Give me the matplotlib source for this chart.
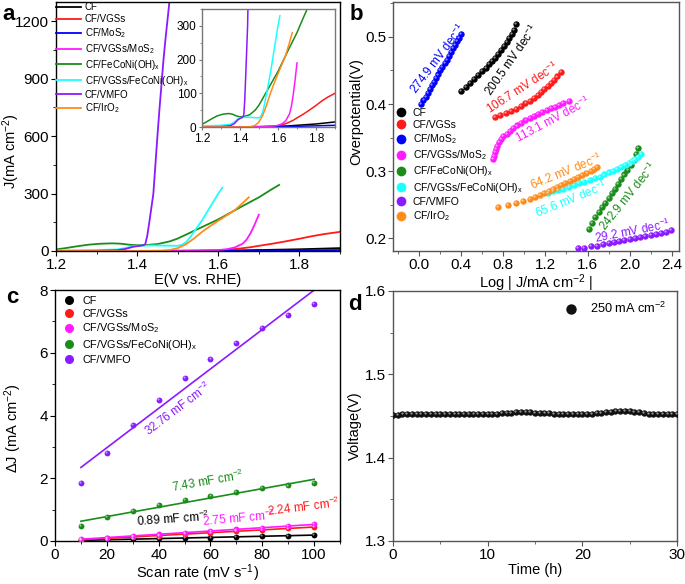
import numpy as np
import matplotlib
matplotlib.use('Agg')
import matplotlib.pyplot as plt
from matplotlib.ticker import MultipleLocator
from matplotlib.lines import Line2D
from matplotlib.transforms import offset_copy

plt.rcParams['font.family'] = ['Liberation Sans', 'DejaVu Sans']
plt.rcParams['mathtext.fontset'] = 'custom'
plt.rcParams['mathtext.rm'] = 'Liberation Sans'
plt.rcParams['mathtext.it'] = 'Liberation Sans:italic'
plt.rcParams['mathtext.bf'] = 'Liberation Sans:bold'

# ---------------- data: panel a (LSV) ----------------
names_a = ['CF', 'CF/VGSs', 'CF/MoS$_2$', 'CF/VGSs/MoS$_2$', 'CF/FeCoNi(OH)$_\\mathregular{x}$',
           'CF/VGSs/FeCoNi(OH)$_\\mathregular{x}$', 'CF/VMFO', 'CF/IrO$_2$']
colors_a = ['#000000', '#ff1a1a', '#0000ff', '#ff1aff', '#1a8c1a', '#1affff', '#8a1aff', '#ff8c1a']

E_cf = [1.2, 1.3, 1.4, 1.5, 1.6, 1.65, 1.7, 1.75, 1.8, 1.85, 1.9]
J_cf = [0, 0, 0.5, 1, 2, 3, 5, 7, 9, 12, 15]
E_vgs = [1.2, 1.4, 1.55, 1.6, 1.62, 1.65, 1.68, 1.7, 1.73, 1.76, 1.8, 1.83, 1.86, 1.9]
J_vgs = [0, 0, 1, 3, 6, 12, 20, 27, 37, 48, 64, 77, 88, 100]
E_mos = [1.2, 1.5, 1.6, 1.7, 1.8, 1.9]
J_mos = [0, 0.5, 1, 2, 3.5, 5]
E_vmos = [1.2, 1.5, 1.58, 1.6, 1.62, 1.64, 1.66, 1.67, 1.68, 1.69, 1.7]
J_vmos = [0, 1, 3, 5, 9, 18, 38, 60, 95, 140, 190]
E_fcn = [1.2, 1.22, 1.25, 1.28, 1.31, 1.34, 1.36, 1.38, 1.4, 1.42, 1.45, 1.48, 1.5, 1.53, 1.56,
         1.6, 1.63, 1.66, 1.7, 1.73, 1.75]
J_fcn = [8, 14, 24, 33, 38, 40, 38, 33, 30, 31, 36, 50, 65, 95, 125, 165, 200, 235, 280, 320, 345]
E_vfcn = [1.2, 1.3, 1.35, 1.37, 1.39, 1.41, 1.44, 1.47, 1.5, 1.51, 1.52, 1.53, 1.54, 1.55, 1.56,
          1.57, 1.58, 1.59, 1.6, 1.61]
J_vfcn = [3, 5, 8, 15, 25, 28, 29, 28, 27, 32, 45, 70, 100, 130, 160, 195, 230, 265, 300, 330]
E_vmfo = [1.2, 1.3, 1.35, 1.37, 1.39, 1.41, 1.415, 1.42, 1.425, 1.43, 1.435, 1.44, 1.445, 1.45,
          1.455, 1.46, 1.465, 1.47, 1.475, 1.48]
J_vmfo = [0, 1, 4, 10, 22, 28, 30, 35, 80, 150, 225, 300, 450, 600, 740, 870, 1000, 1110, 1210, 1310]
E_iro = [1.2, 1.4, 1.46, 1.48, 1.5, 1.52, 1.54, 1.56, 1.58, 1.6, 1.62, 1.64, 1.66, 1.675]
J_iro = [0, 0, 1, 5, 15, 35, 65, 100, 130, 158, 185, 212, 250, 280]

series_a = [(E_cf, J_cf), (E_vgs, J_vgs), (E_mos, J_mos), (E_vmos, J_vmos), (E_fcn, J_fcn),
            (E_vfcn, J_vfcn), (E_vmfo, J_vmfo), (E_iro, J_iro)]

# ---------------- data: panel b (Tafel) ----------------
lx_mos = [0.02, 0.04, 0.06, 0.08, 0.10, 0.12, 0.14, 0.16, 0.18, 0.20, 0.22, 0.24, 0.26, 0.28,
          0.30, 0.32, 0.34, 0.36, 0.38, 0.40]
ly_mos = [0.400, 0.406, 0.411, 0.417, 0.422, 0.428, 0.433, 0.439, 0.444, 0.450, 0.455, 0.461,
          0.466, 0.472, 0.477, 0.483, 0.488, 0.494, 0.499, 0.505]
lx_cf = [0.40, 0.44, 0.48, 0.52, 0.56, 0.60, 0.63, 0.66, 0.69, 0.72, 0.75, 0.78, 0.805, 0.83,
         0.855, 0.88, 0.90, 0.92]
ly_cf = [0.420, 0.4255, 0.431, 0.437, 0.443, 0.449, 0.454, 0.459, 0.464, 0.469, 0.475, 0.481,
         0.486, 0.492, 0.498, 0.504, 0.510, 0.519]
lx_vgs = [0.72, 0.77, 0.82, 0.87, 0.92, 0.97, 1.01, 1.05, 1.09, 1.13, 1.16, 1.19, 1.22, 1.25,
          1.28, 1.31, 1.35]
ly_vgs = [0.381, 0.383, 0.386, 0.389, 0.393, 0.397, 0.401, 0.405, 0.409, 0.414, 0.418, 0.422,
          0.427, 0.431, 0.436, 0.441, 0.448]
lx_vmos = [0.70, 0.71, 0.72, 0.73, 0.74, 0.76, 0.78, 0.80, 0.83, 0.86, 0.89, 0.93, 0.97, 1.01,
           1.05, 1.09, 1.13, 1.17, 1.21, 1.25, 1.29, 1.33, 1.37, 1.42]
ly_vmos = [0.318, 0.323, 0.328, 0.333, 0.338, 0.343, 0.348, 0.352, 0.356, 0.360, 0.364, 0.368,
           0.372, 0.376, 0.379, 0.382, 0.385, 0.388, 0.391, 0.394, 0.396, 0.399, 0.401, 0.404]
lx_fcn = [1.61, 1.64, 1.67, 1.71, 1.74, 1.77, 1.80, 1.83, 1.86, 1.89, 1.92, 1.95, 1.98, 2.01,
          2.04, 2.06, 2.08]
ly_fcn = [0.214, 0.223, 0.231, 0.239, 0.246, 0.253, 0.260, 0.267, 0.274, 0.281, 0.288, 0.295,
          0.302, 0.309, 0.317, 0.325, 0.334]
lx_vfcn = [1.22, 1.27, 1.32, 1.37, 1.42, 1.47, 1.52, 1.57, 1.62, 1.67, 1.72, 1.76, 1.80, 1.84,
           1.88, 1.92, 1.96, 1.99, 2.02, 2.05, 2.08, 2.11]
ly_vfcn = [0.268, 0.270, 0.272, 0.274, 0.277, 0.279, 0.282, 0.284, 0.287, 0.290, 0.292, 0.295,
           0.298, 0.300, 0.303, 0.306, 0.309, 0.312, 0.315, 0.318, 0.321, 0.325]
lx_vmfo = [1.51, 1.57, 1.63, 1.69, 1.75, 1.80, 1.85, 1.90, 1.95, 2.00, 2.05, 2.10, 2.15, 2.20,
           2.25, 2.30, 2.35, 2.39]
ly_vmfo = [0.185, 0.186, 0.188, 0.189, 0.191, 0.193, 0.194, 0.196, 0.197, 0.199, 0.201, 0.202,
           0.204, 0.205, 0.207, 0.208, 0.210, 0.212]
lx_iro = [0.75, 0.84, 0.92, 0.99, 1.05, 1.10, 1.15, 1.19, 1.23, 1.27, 1.31, 1.35, 1.39, 1.43,
          1.47, 1.51, 1.55, 1.59, 1.63, 1.66, 1.69]
ly_iro = [0.246, 0.249, 0.252, 0.256, 0.259, 0.262, 0.265, 0.267, 0.270, 0.273, 0.276, 0.279,
          0.282, 0.285, 0.288, 0.291, 0.294, 0.297, 0.300, 0.303, 0.306]
series_b = [(lx_cf, ly_cf), (lx_vgs, ly_vgs), (lx_mos, ly_mos), (lx_vmos, ly_vmos),
            (lx_fcn, ly_fcn), (lx_vfcn, ly_vfcn), (lx_vmfo, ly_vmfo), (lx_iro, ly_iro)]
tafel_labels = ['200.5 mV dec$^{-1}$', '106.7 mV dec$^{-1}$', '274.9 mV dec$^{-1}$',
                '113.1 mV dec$^{-1}$', '242.9 mV dec$^{-1}$', '65.6 mV dec$^{-1}$',
                '29.2 mV dec$^{-1}$', '64.2 mV dec$^{-1}$']

# ---------------- data: panel c (Cdl) ----------------
scan_rate = [10, 20, 30, 40, 50, 60, 70, 80, 90, 100]
names_c = ['CF', 'CF/VGSs', 'CF/VGSs/MoS$_2$', 'CF/VGSs/FeCoNi(OH)$_\\mathregular{x}$', 'CF/VMFO']
colors_c = ['#000000', '#ff1a1a', '#ff1aff', '#1a8c1a', '#8a1aff']
dJ_cf = [0.02, 0.04, 0.06, 0.08, 0.10, 0.11, 0.13, 0.15, 0.17, 0.19]
dJ_vgs = [0.04, 0.08, 0.13, 0.17, 0.22, 0.27, 0.31, 0.36, 0.40, 0.44]
dJ_vmos = [0.06, 0.11, 0.16, 0.21, 0.27, 0.32, 0.37, 0.42, 0.48, 0.53]
dJ_vfcn = [0.47, 0.78, 0.95, 1.15, 1.30, 1.45, 1.57, 1.68, 1.77, 1.86]
dJ_vmfo = [1.85, 2.80, 3.70, 4.50, 5.20, 5.80, 6.30, 6.80, 7.20, 7.55]
series_c = [dJ_cf, dJ_vgs, dJ_vmos, dJ_vfcn, dJ_vmfo]
cdl_labels = ['0.89 mF cm$^{-2}$', '2.24 mF cm$^{-2}$', '2.75 mF cm$^{-2}$',
              '7.43 mF cm$^{-2}$', '32.76 mF cm$^{-2}$']

# ---------------- data: panel d (stability) ----------------
time_h = np.arange(0, 30.01, 0.5)
voltage = [1.451, 1.451, 1.452, 1.452, 1.452, 1.452, 1.452, 1.452, 1.453, 1.453, 1.453, 1.453,
           1.453, 1.453, 1.453, 1.453, 1.453, 1.453, 1.453, 1.453, 1.453,
           1.453, 1.453, 1.454, 1.454, 1.454, 1.455, 1.455, 1.455, 1.455, 1.454,
           1.454, 1.454, 1.454, 1.453, 1.453, 1.453, 1.453, 1.453, 1.453, 1.453, 1.453, 1.453,
           1.454, 1.454, 1.455, 1.455, 1.456, 1.456, 1.456, 1.456,
           1.455, 1.455, 1.454, 1.453, 1.452, 1.452, 1.452, 1.452, 1.452, 1.452]

# ---------------- figure ----------------
fig = plt.figure(figsize=(6.85, 5.84), dpi=100)
W, H = 685.0, 584.0
TICK = 11
XLAB = 10.5
YLAB = 10.5


def box(l, t, r, b):
    return [l / W, 1 - b / H, (r - l) / W, (b - t) / H]


axA = fig.add_axes(box(56, 2, 340, 251))
axB = fig.add_axes(box(393, 2, 679, 251))
axC = fig.add_axes(box(55, 290, 340, 541))
axD = fig.add_axes(box(393, 291, 677, 541))
axI = fig.add_axes(box(202, 9, 335, 127))


def style(ax, color='black', size=TICK):
    for s in ax.spines.values():
        s.set_color(color)
        s.set_linewidth(1.0)
    ax.tick_params(which='both', direction='out', top=False, right=False, color=color,
                   labelsize=size, pad=1.5, labelcolor='black')
    ax.tick_params(which='major', length=3.5)
    ax.tick_params(which='minor', length=2)


def sphere(ax, x, y, color, ms):
    ax.plot(x, y, 'o', color=color, ms=ms, mec=color, mew=0, zorder=3)
    tr = offset_copy(ax.transData, fig=fig, x=-ms * 0.15, y=ms * 0.15, units='points')
    ax.plot(x, y, 'o', color='white', alpha=0.55, ms=ms * 0.35, mew=0, transform=tr, zorder=4)


# ---- panel a ----
for (e, j), c, n in zip(series_a, colors_a, names_a):
    axA.plot(e, j, '-', color=c, lw=1.3, label=n)
    axI.plot(e, j, '-', color=c, lw=1.1)
axA.set_xlim(1.2, 1.9)
axA.set_ylim(0, 1300)
axA.xaxis.set_major_locator(MultipleLocator(0.2))
axA.xaxis.set_minor_locator(MultipleLocator(0.1))
axA.yaxis.set_major_locator(MultipleLocator(300))
axA.yaxis.set_minor_locator(MultipleLocator(150))
style(axA)
axA.set_xlabel('E(V vs. RHE)', fontsize=XLAB, labelpad=0.5)
axA.set_ylabel('J(mA cm$^{-2}$)', fontsize=YLAB)
axA.yaxis.set_label_coords(-0.12, 0.40)
axA.legend(loc='upper left', bbox_to_anchor=(0.0, 1.0), frameon=False, fontsize=7.0,
           handlelength=2.5, handletextpad=0.4, labelspacing=0.2, borderaxespad=0.0,
           borderpad=0.05)

axI.set_xlim(1.2, 1.9)
axI.set_ylim(0, 350)
axI.xaxis.set_major_locator(MultipleLocator(0.2))
axI.xaxis.set_minor_locator(MultipleLocator(0.1))
axI.yaxis.set_major_locator(MultipleLocator(100))
axI.yaxis.set_minor_locator(MultipleLocator(50))
style(axI, color='#777777', size=8.5)
axI.tick_params(which='major', length=2.5)
axI.tick_params(which='minor', length=1.5)

# ---- panel b ----
for (x, y), c in zip(series_b, colors_a):
    sphere(axB, x, y, c, 4.6)
axB.set_xlim(-0.25, 2.47)
axB.set_ylim(0.181, 0.552)
axB.xaxis.set_major_locator(MultipleLocator(0.4))
axB.xaxis.set_minor_locator(MultipleLocator(0.2))
axB.yaxis.set_major_locator(MultipleLocator(0.1))
axB.yaxis.set_minor_locator(MultipleLocator(0.05))
style(axB, color='#555555')
axB.set_xlabel('Log | J/mA cm$^{-2}$ |', fontsize=XLAB, labelpad=0.5)
axB.set_ylabel('Overpotential(V)', fontsize=YLAB)
axB.yaxis.set_label_coords(-0.105, 0.56)
handles_b = [Line2D([], [], ls='none', marker='o', ms=7, color=c, mew=0) for c in colors_a]
axB.legend(handles_b, names_a, loc='upper left', bbox_to_anchor=(0.0, 0.58), frameon=False,
           fontsize=7.5, handlelength=1.3, handletextpad=0.5, labelspacing=0.22,
           borderaxespad=0.0, borderpad=0.1)
# tafel slope annotations: (x, y, angle)
tafel_pos = [(0.88, 0.466, 55), (0.98, 0.424, 33), (0.18, 0.468, 53), (1.27, 0.377, 28),
             (1.99, 0.263, 51), (1.45, 0.258, 22), (2.03, 0.211, 11), (1.40, 0.300, 22)]
for (px, py, ang), lab, c in zip(tafel_pos, tafel_labels, colors_a):
    axB.text(px, py, lab, color=c, fontsize=8.5, rotation=ang, ha='center', va='center',
             rotation_mode='anchor')

# ---- panel c ----
sr = np.array(scan_rate)
for dj, c, n in zip(series_c, colors_c, names_c):
    k, b0 = np.polyfit(sr, dj, 1)
    axC.plot(sr, k * sr + b0, '-', color=c, lw=1.2, zorder=2)
    sphere(axC, sr, dj, c, 4.2)
axC.set_xlim(0, 110)
axC.set_ylim(0, 8)
axC.xaxis.set_major_locator(MultipleLocator(20))
axC.xaxis.set_minor_locator(MultipleLocator(10))
axC.yaxis.set_major_locator(MultipleLocator(2))
axC.yaxis.set_minor_locator(MultipleLocator(1))
style(axC)
axC.set_xlabel('Scan rate (mV s$^{-1}$)', fontsize=XLAB, labelpad=0.5)
axC.set_ylabel('$\\Delta$J (mA cm$^{-2}$)', fontsize=YLAB)
axC.yaxis.set_label_coords(-0.11, 0.45)
handles_c = [Line2D([], [], ls='none', marker='o', ms=6.5, color=c, mew=0) for c in colors_c]
axC.legend(handles_c, names_c, loc='upper left', bbox_to_anchor=(0.02, 0.985), frameon=False,
           fontsize=7.8, handlelength=1.2, handletextpad=0.6, labelspacing=0.25,
           borderaxespad=0.0, borderpad=0.2)
cdl_pos = [(45.5, 0.70, 4), (96.0, 1.08, 7), (71.0, 0.73, 5), (59.0, 1.90, 10), (47.5, 4.20, 37)]
for (px, py, ang), lab, c in zip(cdl_pos, cdl_labels, colors_c):
    axC.text(px, py, lab, color=c, fontsize=8.5, rotation=ang, ha='center', va='center',
             rotation_mode='anchor')

# ---- panel d ----
sphere(axD, time_h, voltage, '#111111', 4.6)
axD.set_xlim(0, 30)
axD.set_ylim(1.3, 1.6)
axD.xaxis.set_major_locator(MultipleLocator(10))
axD.xaxis.set_minor_locator(MultipleLocator(5))
axD.yaxis.set_major_locator(MultipleLocator(0.1))
axD.yaxis.set_minor_locator(MultipleLocator(0.05))
style(axD, color='#555555')
axD.set_xlabel('Time (h)', fontsize=XLAB, labelpad=0.5)
axD.set_ylabel('Voltage(V)', fontsize=YLAB)
axD.yaxis.set_label_coords(-0.11, 0.46)
axD.legend([Line2D([], [], ls='none', marker='o', ms=7.5, color='#111111', mew=0)],
           ['250 mA cm$^{-2}$'], loc='upper right', bbox_to_anchor=(0.99, 0.99), frameon=False,
           fontsize=9.2, handlelength=1.0, handletextpad=1.0, borderaxespad=0.2)

# ---- panel letters ----
for lab, x, y in [('a', 2, 20), ('b', 350, 20), ('c', 6, 303), ('d', 348, 310)]:
    fig.text(x / W, 1 - y / H, lab, fontsize=16, fontweight='bold', ha='left', va='baseline')

fig.savefig('out.png', dpi=100)
